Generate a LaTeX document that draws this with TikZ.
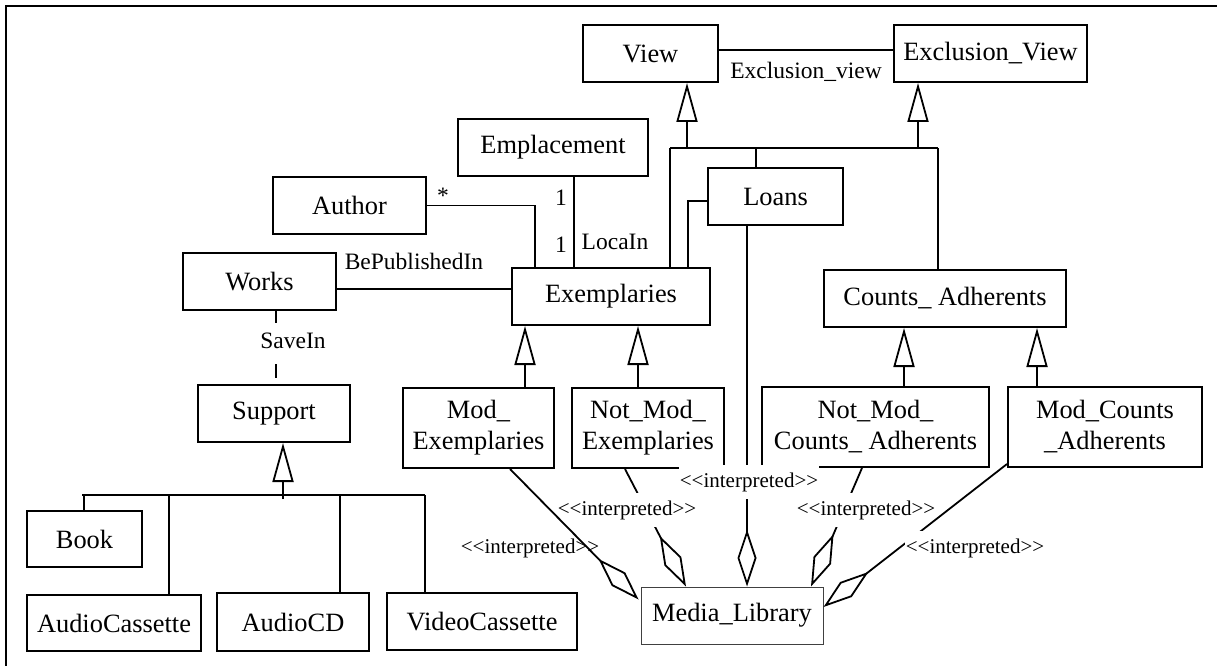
\documentclass[tikz,border=0pt]{standalone}
\usepackage{fontspec}
\setmainfont{Liberation Serif}
\usetikzlibrary{arrows.meta,calc}
\newcommand\bxfont{\fontsize{26.4}{31}\selectfont}
\newcommand\lbfont{\fontsize{23.5}{26}\selectfont}
\newcommand\itfont{\fontsize{21}{24}\selectfont}
\newcommand\interp{<\kern0pt<interpreted>\kern0pt>}
\begin{document}
\begin{tikzpicture}[x=1pt,y=-1pt,
  box/.style={draw, line width=2pt, rectangle, inner sep=0pt, align=center, font=\bxfont},
  conn/.style={line width=1.8pt},
  gen/.style={conn, -{Triangle[open,length=39pt,width=21pt]}},
  agg/.style={conn, -{Diamond[open,length=57pt,width=19pt]}},
  lbl/.style={font=\lbfont, inner sep=0pt},
  itl/.style={font=\itfont, inner xsep=1pt, inner ysep=7pt},
  itlf/.style={itl, fill=white}]
\useasboundingbox (0,0) rectangle (1217,666);
% frame
\draw[line width=2pt] (6,666) -- (6,6) -- (1217,6);

% nodes
\node[box, minimum width=135pt, minimum height=57pt] (view) at (650.5,53.5) {View};
\node[box, minimum width=193pt, minimum height=57pt] (exview) at (990.5,53.5) {Exclusion\_View};
\node[box, minimum width=190pt, minimum height=57pt] (emplacement) at (553,147.5) {Emplacement};
\node[box, minimum width=153pt, minimum height=57pt] (author) at (349.5,205.5) {Author};
\node[box, minimum width=135pt, minimum height=57pt] (loans) at (775.5,196.5) {Loans};
\node[box, minimum width=153pt, minimum height=57pt] (works) at (259.5,281.5) {Works};
\node[box, minimum width=198pt, minimum height=57pt] (exemplaries) at (611,296.5) {Exemplaries};
\node[box, minimum width=242pt, minimum height=57pt] (counts) at (945,298.5) {Counts\_ Adherents};
\node[box, minimum width=152pt, minimum height=57pt] (support) at (274,413.5) {Support};
\node[box, minimum width=151pt, minimum height=80pt] (modex) at (478.5,428) {Mod\_\\Exemplaries};
\node[box, minimum width=152pt, minimum height=80pt] (notmodex) at (648,428) {Not\_Mod\_\\Exemplaries};
\node[box, minimum width=227pt, minimum height=80pt] (notmodca) at (875.5,427) {Not\_Mod\_\\Counts\_ Adherents};
\node[box, minimum width=194pt, minimum height=80pt] (modca) at (1105,427) {Mod\_Counts\\\_Adherents};
\node[box, minimum width=115pt, minimum height=56pt] (book) at (84.5,539) {Book};
\node[box, minimum width=174pt, minimum height=56pt] (audiocassette) at (114,623) {AudioCassette};
\node[box, minimum width=152pt, minimum height=58pt] (audiocd) at (293,622) {AudioCD};
\node[box, minimum width=190pt, minimum height=57pt] (videocassette) at (482,621.5) {VideoCassette};
\node[box, line width=1pt, draw=black!75, minimum width=182pt, minimum height=57pt] (media) at (732,615.5) {Media\_Library};

% View -- Exclusion_View
\coordinate (vy) at (0,50);
\draw[conn] (view.east |- vy) -- (exview.west |- vy);
\node[lbl] (exl) at (806,72) {Exclusion\_view};

% generalisation to View / Exclusion_View
\coordinate (j1) at (687,148);
\coordinate (j2) at (918,148);
\coordinate (bl) at (670,148);
\coordinate (br) at (938,148);
\coordinate (jl) at (756,148);
\draw[gen] (j1) -- (view.south -| j1);
\draw[gen] (j2) -- (exview.south -| j2);
\draw[conn] (bl) -- (br);
\draw[conn] (bl) -- (bl |- exemplaries.north);
\draw[conn] (br) -- (br |- counts.north);
\draw[conn] (jl) -- (jl |- loans.north);
\coordinate (lx) at (688,201);
\draw[conn] (lx -| loans.west) -- (lx) -- (lx |- exemplaries.north);

% Author
\coordinate (ax) at (535,0);
\draw[conn] (author.east) -| (exemplaries.north -| ax);
\node[lbl] (star) at (443,196) {*};

% Emplacement
\coordinate (ex) at (574,0);
\draw[conn] (emplacement.south -| ex) -- (exemplaries.north -| ex);
\node[lbl] (one1) at (561,198) {1};
\node[lbl] (one2) at (561,245) {1};
\node[lbl] (locain) at (615,242) {LocaIn};

% Works
\coordinate (wy) at (0,289);
\draw[conn] (works.east |- wy) -- (exemplaries.west |- wy);
\node[lbl] (bepub) at (414,261) {BePublishedIn};

% Works -- Support
\coordinate (sx) at (276,0);
\draw[conn, dash pattern=on 12pt off 41pt on 14pt off 20pt] (works.south -| sx) -- (support.north -| sx);
\node[lbl] (savein) at (293,341) {SaveIn};

% Exemplaries / Counts generalisations
\coordinate (g1) at (525,0);
\coordinate (g2) at (638,0);
\coordinate (g3) at (904,0);
\coordinate (g4) at (1037,0);
\draw[gen] (modex.north -| g1) -- (exemplaries.south -| g1);
\draw[gen] (notmodex.north -| g2) -- (exemplaries.south -| g2);
\draw[gen] (notmodca.north -| g3) -- (counts.south -| g3);
\draw[gen] (modca.north -| g4) -- (counts.south -| g4);

% Support generalisation
\coordinate (sj) at (283,495);
\coordinate (sbl) at (82,495);
\coordinate (sbr) at (425,495);
\coordinate (s1) at (84,495);
\coordinate (s2) at (169,495);
\coordinate (s3) at (340,495);
\draw[gen] ($(sj)+(0,4)$) -- (support.south -| sj);
\draw[conn] (sbl) -- (sbr);
\draw[conn] (s1) -- (book.north -| s1);
\draw[conn] (s2) -- (audiocassette.north -| s2);
\draw[conn] (s3) -- (audiocd.north -| s3);
\draw[conn] (sbr) -- (videocassette.north -| sbr);

% aggregations to Media_Library
\coordinate (m1) at ($(media.north west)+(-2,13)$);
\coordinate (m2) at ($(media.north)+(-46,0)$);
\coordinate (lv) at (747,0);
\coordinate (m4) at ($(media.north)+(79,0)$);
\coordinate (m5) at ($(media.east)+(0,-8.5)$);
\draw[agg] ($(notmodex.south)+(-23,0)$) -- (m2);
\draw[agg] (loans.south -| lv) -- (media.north -| lv);
\draw[agg] ($(notmodca.south)+(-13.5,0)$) -- (m4);
\node[itlf] (i2) at (627,510) {\interp};
\node[itlf] (i3) at (749,482) {\interp};
\node[itlf] (i4) at (866,510) {\interp};
\draw[agg] ($(modca.south west)+(0,-4)$) -- (m5);
\node[itlf] (i5) at (975,548) {\interp};
\draw[agg] ($(modex.south)+(31.5,0)$) -- (m1);
\node[itl] (i1) at (530,548) {\interp};
\end{tikzpicture}
\end{document}
